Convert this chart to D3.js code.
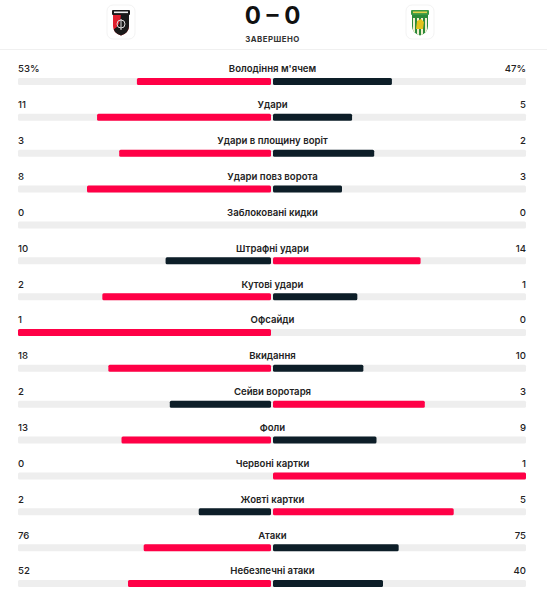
<!DOCTYPE html>
<meta charset="utf-8">
<head>
<style>
  body { margin: 0; background: #fff; }
  svg { display: block; font-family: "Inter", "Noto Sans", sans-serif; }
</style>
</head>
<body>
<script src="https://cdn.jsdelivr.net/npm/d3@7"></script>
<div id="stats"></div>
<script>

// match stats
var labels = ["Володіння м'ячем", "Удари", "Удари в площину воріт", "Удари повз ворота",
  "Заблоковані кидки", "Штрафні удари", "Кутові удари", "Офсайди", "Вкидання",
  "Сейви воротаря", "Фоли", "Червоні картки", "Жовті картки", "Атаки", "Небезпечні атаки"];
var homeValues = [53, 11, 3, 8, 0, 10, 2, 1, 18, 2, 13, 0, 2, 76, 52];
var awayValues = [47, 5, 2, 3, 0, 14, 1, 0, 10, 3, 9, 1, 5, 75, 40];
var suffixes = ["%", "", "", "", "", "", "", "", "", "", "", "", "", "", ""];
var score = ["0", "0"];
var status = "ЗАВЕРШЕНО";

var width = 547, height = 600;
var red = "#ff0046", dark = "#0d1e28", track = "#eeeeee", ink = "#222";
var left = 18, right = 526, center = 272, gap = 1;
var half = center - gap - left;

var rows = labels.map(function(l, i) {
  return { label: l, home: homeValues[i], away: awayValues[i], suffix: suffixes[i] };
});

var svg = d3.select("#stats").append("svg")
  .attr("width", width)
  .attr("height", height);

// header
svg.append("text")
  .attr("x", center + 0.5).attr("y", 24)
  .attr("text-anchor", "middle")
  .attr("font-size", 24).attr("font-weight", 700)
  .attr("fill", "#111")
  .text(score[0] + " – " + score[1]);

svg.append("text")
  .attr("x", center + 0.5).attr("y", 42)
  .attr("text-anchor", "middle")
  .attr("font-size", 7.8).attr("font-weight", 700)
  .attr("letter-spacing", 0.5)
  .attr("fill", "#333")
  .text(status);

svg.append("line")
  .attr("x1", 0).attr("x2", width)
  .attr("y1", 49.5).attr("y2", 49.5)
  .attr("stroke", "#f0f0f0");

// team badges (simple shields)
function badge(cx, colors) {
  var g = svg.append("g").attr("transform", "translate(" + cx + ",22)");
  g.append("rect").attr("x", -14).attr("y", -17).attr("width", 28).attr("height", 34)
    .attr("rx", 6).attr("fill", "#fff").attr("stroke", "#f3f3f3");
  var shield = "M-8,-9 L8,-9 L8,4 Q8,11 0,13.5 Q-8,11 -8,4 Z";
  g.append("clipPath").attr("id", "clip" + cx).append("path").attr("d", shield);
  var inner = g.append("g").attr("clip-path", "url(#clip" + cx + ")");
  if (colors.type == "split") {
    inner.append("rect").attr("x", -8).attr("y", -9).attr("width", 16).attr("height", 24).attr("fill", colors.a);
    inner.append("path").attr("d", "M0,-9 L8,-9 L8,15 L-8,15 L-8,8 Q0,4 0,-9 Z").attr("fill", colors.b);
    inner.append("circle").attr("cx", 0).attr("cy", 2).attr("r", 4).attr("fill", "none").attr("stroke", "#ddd").attr("stroke-width", 1);
    inner.append("line").attr("x1", 0).attr("x2", 0).attr("y1", -3).attr("y2", 8).attr("stroke", "#ddd").attr("stroke-width", 1);
  } else {
    inner.append("rect").attr("x", -8).attr("y", -9).attr("width", 16).attr("height", 24).attr("fill", colors.a);
    [-6, -2, 2, 6].forEach(function(x) {
      inner.append("rect").attr("x", x - 1).attr("y", -4).attr("width", 2).attr("height", 20).attr("fill", colors.b);
    });
    inner.append("path").attr("d", "M-4,7 L-3,-1 L1,-3 L4,0 L3,7 Z").attr("fill", "#e3c21c");
  }
  g.append("rect").attr("x", -9).attr("y", -12).attr("width", 18).attr("height", 5).attr("rx", 1)
    .attr("fill", colors.top);
  g.append("rect").attr("x", -7).attr("y", -10.5).attr("width", 14).attr("height", 1.6)
    .attr("fill", colors.text);
}
badge(121, { type: "split", a: "#e0202e", b: "#1a1a1a", top: "#1a1a1a", text: "#eee" });
badge(420, { type: "stripes", a: "#2c8a3a", b: "#f3f0d0", top: "#3a9a45", text: "#e3d24a" });

// rows
var y = d3.scalePoint().domain(labels).range([69, 571]);

var row = svg.selectAll("g.row")
  .data(rows)
  .enter().append("g")
  .attr("class", "row")
  .attr("transform", function(d) { return "translate(0," + y(d.label) + ")"; });

row.append("text")
  .attr("x", center + 0.5).attr("y", 3.4)
  .attr("text-anchor", "middle")
  .attr("font-size", 9.6).attr("font-weight", 600)
  .attr("fill", ink)
  .text(function(d) { return d.label; });

row.append("text")
  .attr("x", left).attr("y", 3.4)
  .attr("font-size", 9.6).attr("font-weight", 500)
  .attr("fill", ink)
  .text(function(d) { return d.home + d.suffix; });

row.append("text")
  .attr("x", right).attr("y", 3.4)
  .attr("text-anchor", "end")
  .attr("font-size", 9.6).attr("font-weight", 500)
  .attr("fill", ink)
  .text(function(d) { return d.away + d.suffix; });

// background track
row.append("rect")
  .attr("x", left).attr("y", 9)
  .attr("width", right - left).attr("height", 7)
  .attr("rx", 1.5)
  .attr("fill", track);

function scaleFor(d) {
  var total = d.home + d.away;
  return d3.scaleLinear().domain([0, total || 1]).range([0, half]);
}

row.append("rect")
  .attr("x", function(d) { return center - gap - scaleFor(d)(d.home); })
  .attr("y", 9)
  .attr("width", function(d) { return scaleFor(d)(d.home); })
  .attr("height", 7)
  .attr("rx", 1.5)
  .attr("fill", function(d) { return d.home >= d.away ? red : dark; });

row.append("rect")
  .attr("x", center + gap)
  .attr("y", 9)
  .attr("width", function(d) { return scaleFor(d)(d.away); })
  .attr("height", 7)
  .attr("rx", 1.5)
  .attr("fill", function(d) { return d.away > d.home ? red : dark; });

</script>
</body>
